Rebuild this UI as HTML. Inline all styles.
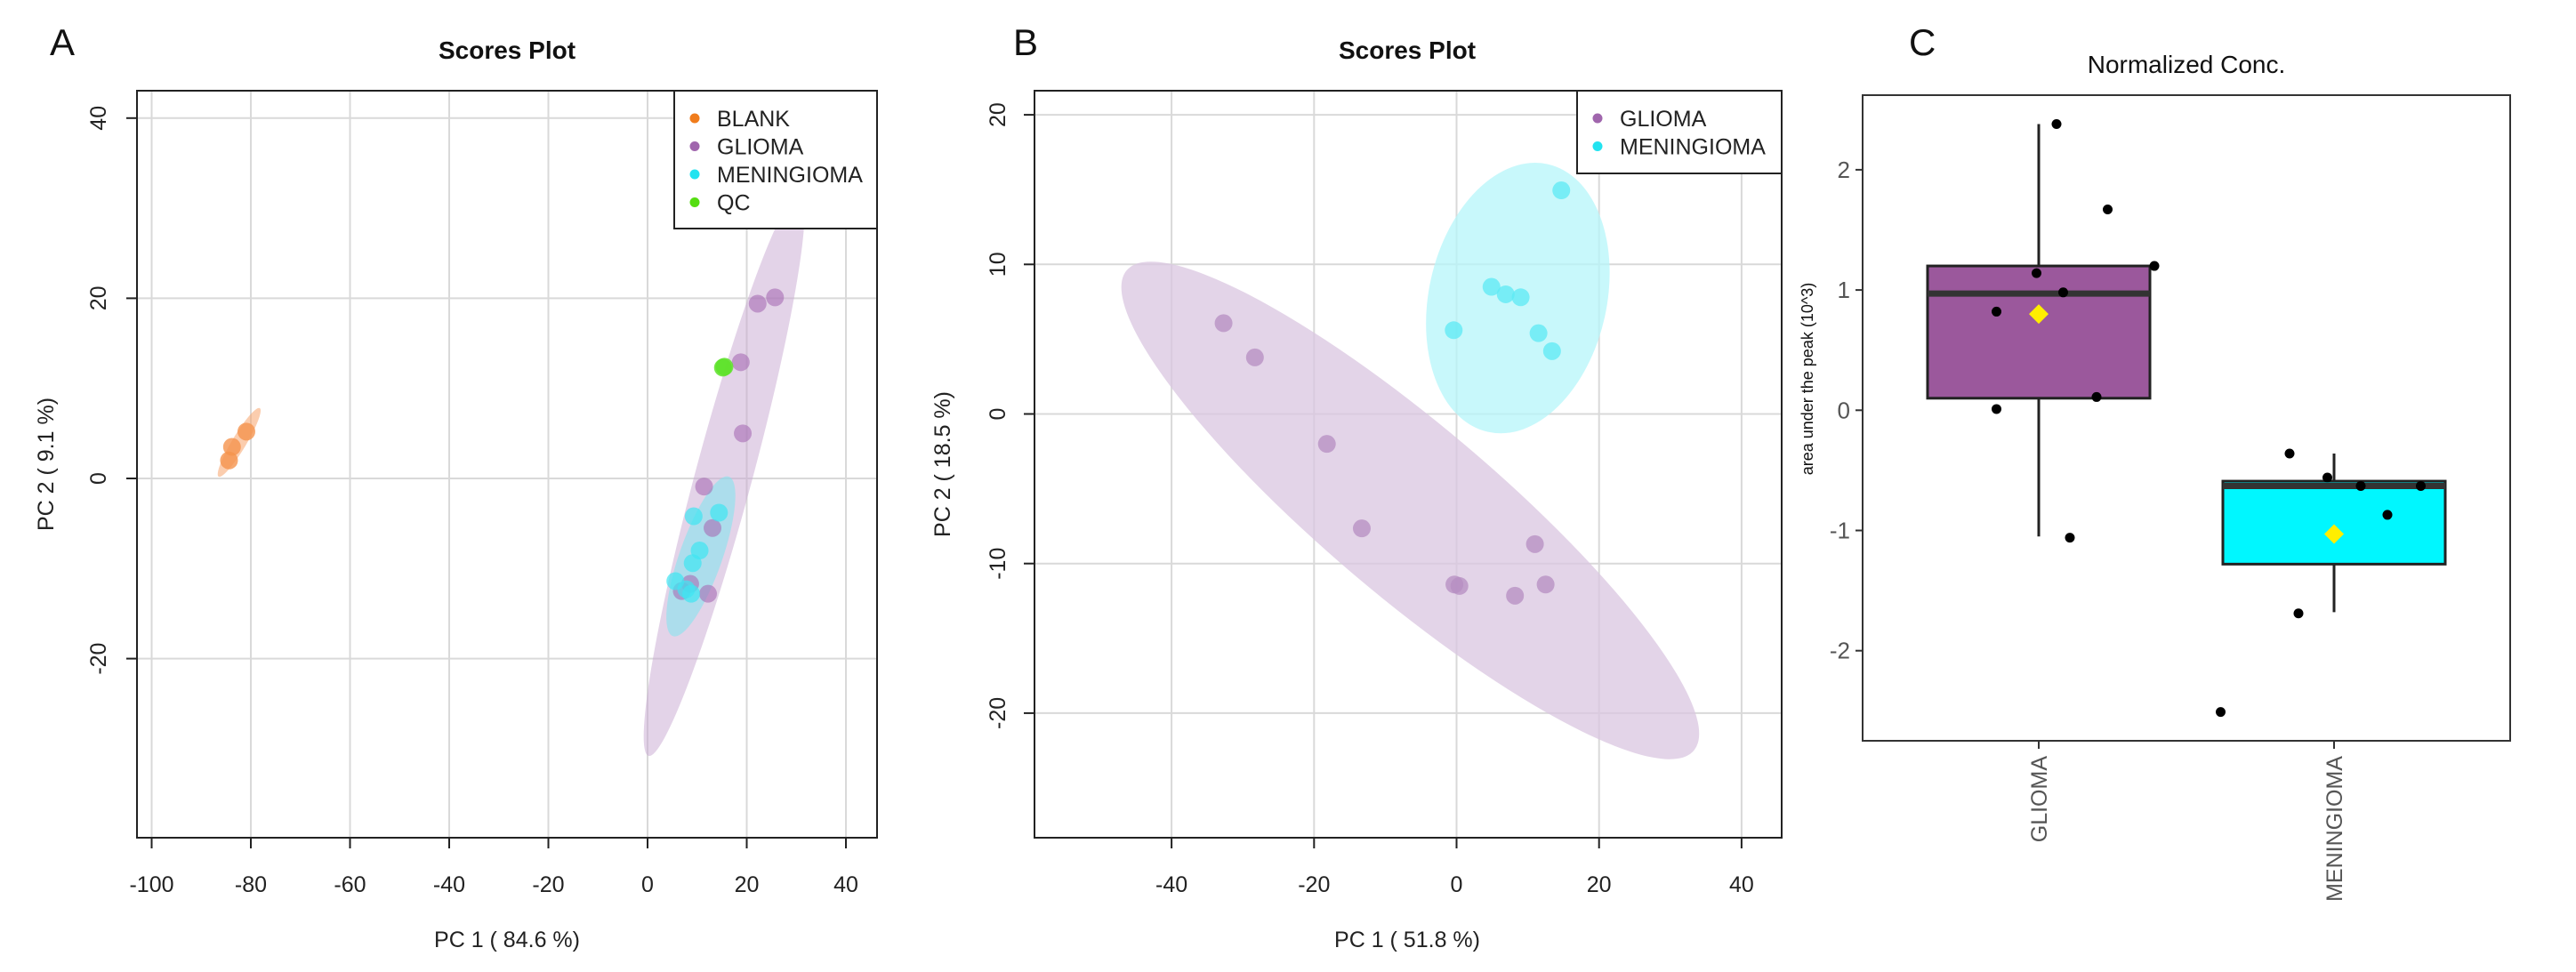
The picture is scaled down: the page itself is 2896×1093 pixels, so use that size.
<!DOCTYPE html>
<html><head><meta charset="utf-8"><style>
html,body{margin:0;padding:0;background:#fff;}
svg text{font-family:"Liberation Sans",sans-serif;}
</style></head><body>
<svg id="fig" width="2896" height="1088" viewBox="0 0 2896 1088" xmlns="http://www.w3.org/2000/svg"></svg>
<script>
// ---------- Panel A data ----------
const aXTicks = [-100,-80,-60,-40,-20,0,20,40];
const aYTicks = [-20,0,20,40];
const aBlankX = [-80.9,-83.8,-84.4];
const aBlankY = [5.2,3.5,2.0];
const aGliomaX = [22.2,25.7,18.8,19.2,11.4,13.1,8.6,6.9,12.2];
const aGliomaY = [19.4,20.1,12.9,5.0,-0.9,-5.5,-11.7,-12.5,-12.8];
const aMenX = [9.3,14.4,10.5,9.1,5.6,7.8,8.8];
const aMenY = [-4.2,-3.8,-8.0,-9.4,-11.4,-12.3,-12.8];
const aQcX = [15.5,15.2];
const aQcY = [12.4,12.3];
// ellipses: [x1,y1,x2,y2] major-axis endpoints in data units
const aBlankEll = [-86.5,0.2,-78.2,7.8];
const aGliomaEll = [0.2,-30.8,30.7,31.7];
const aMenEll = [5.1,-17.5,16.4,0.2];
// ---------- Panel B data ----------
const bXTicks = [-40,-20,0,20,40];
const bYTicks = [-20,-10,0,10,20];
const bGliomaX = [-32.7,-28.3,-18.2,-13.3,-0.3,0.4,8.2,11.0,12.5];
const bGliomaY = [6.07,3.78,-2.0,-7.65,-11.4,-11.5,-12.15,-8.7,-11.4];
const bMenX = [14.7,4.9,6.9,9.0,-0.4,11.5,13.4];
const bMenY = [14.95,8.5,8.0,7.8,5.6,5.4,4.2];
const bGliomaEll = [-46.3,9.6,33.3,-22.5];
const bMenEll = [4.4,-1.2,12.8,16.7];
// ---------- Panel C data ----------
const cCats = ["GLIOMA","MENINGIOMA"];
const cYTicks = [-2,-1,0,1,2];
const cQ1 = [0.1,-1.28];
const cMedian = [0.97,-0.63];
const cQ3 = [1.2,-0.59];
const cWhiskLo = [-1.05,-1.68];
const cWhiskHi = [2.38,-0.36];
const cMean = [0.8,-1.03];
const cGliomaPts = [2.38,1.67,1.2,1.14,0.98,0.82,0.01,0.11,-1.06];
const cGliomaJit = [0.08,0.31,0.52,-0.01,0.11,-0.19,-0.19,0.26,0.14];
const cMenPts = [-0.36,-0.56,-0.63,-0.63,-0.87,-1.69,-2.51];
const cMenJit = [-0.20,-0.03,0.12,0.39,0.24,-0.16,-0.51];

const NS="http://www.w3.org/2000/svg";
const svg=document.getElementById('fig');
function mk(tag,attrs,parent){const e=document.createElementNS(NS,tag);for(const k in attrs)e.setAttribute(k,attrs[k]);(parent||svg).appendChild(e);return e;}
function txt(s,attrs,parent){const e=mk('text',attrs,parent);e.textContent=s;return e;}

function scoresPanel(o){
  const g=mk('g',{});
  
  
  const sx=v=>o.x0px+(v-o.x0v)*o.xs, sy=v=>o.y0px-(v-o.y0v)*o.ys;
  // grid
  o.xt.forEach(v=>{const l=mk('line',{x1:sx(v),x2:sx(v),y1:o.top,y2:o.bot,stroke:'#d9d9d9','stroke-width':2},g);
    });
  o.yt.forEach(v=>{const l=mk('line',{x1:o.left,x2:o.right,y1:sy(v),y2:sy(v),stroke:'#d9d9d9','stroke-width':2},g);
    });
  const clip=mk('clipPath',{id:o.name+'-clip'},g);mk('rect',{x:o.left,y:o.top,width:o.right-o.left,height:o.bot-o.top},clip);
  const pg=mk('g',{'clip-path':'url(#'+o.name+'-clip)'},g);
  o.ells.forEach(e=>{
    const x1=sx(e.d[0]),y1=sy(e.d[1]),x2=sx(e.d[2]),y2=sy(e.d[3]);
    const cx=(x1+x2)/2,cy=(y1+y2)/2,rx=Math.hypot(x2-x1,y2-y1)/2,ang=Math.atan2(y2-y1,x2-x1)*180/Math.PI;
    const el=mk('ellipse',{cx:cx,cy:cy,rx:rx,ry:e.w,transform:`rotate(${ang} ${cx} ${cy})`,fill:e.c,'fill-opacity':e.a},pg);
    
    
  });
  o.series.forEach(s=>{
    s.x.forEach((v,i)=>{const c=mk('circle',{cx:sx(v),cy:sy(s.y[i]),r:10,fill:s.c,'fill-opacity':s.a},pg);
      
      });
  });
  mk('rect',{x:o.left,y:o.top,width:o.right-o.left,height:o.bot-o.top,fill:'none',stroke:'#222','stroke-width':2},g);
  o.xt.forEach(v=>{mk('line',{x1:sx(v),x2:sx(v),y1:o.bot,y2:o.bot+12,stroke:'#222','stroke-width':2},g);
    const t=txt(String(v),{x:sx(v),y:1003,'font-size':25,'text-anchor':'middle',fill:'#222'},g);
    });
  o.yt.forEach(v=>{mk('line',{x1:o.left-12,x2:o.left,y1:sy(v),y2:sy(v),stroke:'#222','stroke-width':2},g);
    const t=txt(String(v),{x:o.ytx,y:sy(v),'font-size':25,'text-anchor':'middle',fill:'#222',transform:`rotate(-90 ${o.ytx} ${sy(v)})`},g);
    });
  const cx=(o.left+o.right)/2;
  let t=txt('Scores Plot',{x:o.titleX,y:66,'font-size':28,'font-weight':'bold','text-anchor':'middle',fill:'#111'},g);
  
  t=txt(o.letter,{x:o.letterX,y:62,'font-size':42,fill:'#111'},g);
  
  t=txt(o.xl,{x:o.titleX,y:1065,'font-size':25,'text-anchor':'middle',fill:'#222'},g);
  
  t=txt(o.yl,{x:o.ylx,y:(o.top+o.bot)/2,'font-size':25,'text-anchor':'middle',fill:'#222',transform:`rotate(-90 ${o.ylx} ${(o.top+o.bot)/2})`},g);
  
  // legend
  const lg=mk('g',{},g);
  
  mk('rect',{x:o.legX,y:o.top,width:o.right-o.legX,height:o.legH,fill:'#fff',stroke:'#222','stroke-width':2},lg);
  o.leg.forEach((e,i)=>{const y=133+i*31.5;
    const eg=mk('g',{},lg);
    mk('circle',{cx:o.legX+23,cy:y,r:5.5,fill:e[1]},eg);
    txt(e[0],{x:o.legX+48,y:y+9,'font-size':25,fill:'#222'},eg);});
}

scoresPanel({name:'panel-a-scores-plot',left:154,right:986,top:102,bot:942,x0px:170.5,x0v:-100,xs:5.575,y0px:538,y0v:0,ys:10.13,
  xt:aXTicks,yt:aYTicks,ytx:119,titleX:570,letter:'A',letterX:56,xl:'PC 1 ( 84.6 %)',yl:'PC 2 ( 9.1 %)',ylx:60,
  ells:[{d:aBlankEll,w:8,c:'#f7a46b',a:0.55,n:'blank-ellipse'},{d:aGliomaEll,w:32,c:'#c8a8d2',a:0.5,n:'glioma-ellipse'},{d:aMenEll,w:24,c:'#7fe5ee',a:0.55,n:'meningioma-ellipse'}],
  series:[{x:aBlankX,y:aBlankY,c:'#f5934e',a:0.8,n:'blank-point'},{x:aGliomaX,y:aGliomaY,c:'#a66db4',a:0.6,n:'glioma-point'},
          {x:aMenX,y:aMenY,c:'#3ee6f2',a:0.7,n:'meningioma-point'},{x:aQcX,y:aQcY,c:'#5ee22a',a:0.85,n:'qc-point'}],
  legX:758,legH:155,leg:[['BLANK','#f07c1c'],['GLIOMA','#a066ad'],['MENINGIOMA','#22e3f0'],['QC','#55dd11']]});

scoresPanel({name:'panel-b-scores-plot',left:1163,right:2003,top:102,bot:942,x0px:1637.5,x0v:0,xs:8.01,y0px:465.5,y0v:0,ys:16.82,
  xt:bXTicks,yt:bYTicks,ytx:1130,titleX:1582,letter:'B',letterX:1139,xl:'PC 1 ( 51.8 %)',yl:'PC 2 ( 18.5 %)',ylx:1068,
  ells:[{d:bGliomaEll,w:96,c:'#d9c6e0',a:0.75,n:'glioma-ellipse'},{d:bMenEll,w:100,c:'#b5f6fa',a:0.75,n:'meningioma-ellipse'}],
  series:[{x:bGliomaX,y:bGliomaY,c:'#b58ec1',a:0.75,n:'glioma-point'},{x:bMenX,y:bMenY,c:'#5ceaf4',a:0.75,n:'meningioma-point'}],
  legX:1773,legH:93,leg:[['GLIOMA','#a066ad'],['MENINGIOMA','#22e3f0']]});

// ---------- Panel C ----------
(function(){
  const g=mk('g',{});
  
  const L=2094,R=2822,T=107,B=833;
  const sy=v=>461.3-v*135.2;
  const catX=[2292,2624], bw=250;
  mk('rect',{x:L,y:T,width:R-L,height:B-T,fill:'#fff',stroke:'#333','stroke-width':2},g);
  const fills=['#9b589c','#00f7ff'];
  const pts=[cGliomaPts,cMenPts], jit=[cGliomaJit,cMenJit];
  cCats.forEach((c,i)=>{
    const x=catX[i];
    const w=mk('line',{x1:x,x2:x,y1:sy(cWhiskHi[i]),y2:sy(cWhiskLo[i]),stroke:'#222','stroke-width':3},g);
    
    const b=mk('rect',{x:x-bw/2,y:sy(cQ3[i]),width:bw,height:sy(cQ1[i])-sy(cQ3[i]),fill:fills[i],stroke:'#222','stroke-width':3},g);
    
    const m=mk('line',{x1:x-bw/2,x2:x+bw/2,y1:sy(cMedian[i]),y2:sy(cMedian[i]),stroke:'#333','stroke-width':7},g);
    
    pts[i].forEach((v,j)=>{const p=mk('circle',{cx:x+jit[i][j]*bw,cy:sy(v),r:5.5,fill:'#000'},g);
      });
    const my=sy(cMean[i]);
    const d=mk('polygon',{points:`${x},${my-11} ${x+11},${my} ${x},${my+11} ${x-11},${my}`,fill:'#ffee00'},g);
    
    mk('line',{x1:x,x2:x,y1:B,y2:B+9,stroke:'#333','stroke-width':2},g);
    const t=txt(c,{x:x+9,y:850,'font-size':25,'text-anchor':'end',fill:'#555',transform:`rotate(-90 ${x+9} 850)`},g);
    
  });
  cYTicks.forEach(v=>{mk('line',{x1:L-8,x2:L,y1:sy(v),y2:sy(v),stroke:'#333','stroke-width':2},g);
    const t=txt(String(v),{x:L-14,y:sy(v)+9,'font-size':26,'text-anchor':'end',fill:'#555'},g);
    });
  let t=txt('Normalized Conc.',{x:2458,y:82,'font-size':28,'text-anchor':'middle',fill:'#111'},g);
  
  t=txt('C',{x:2146,y:62,'font-size':42,fill:'#111'},g);
  
  t=txt('area under the peak (10^3)',{x:2038,y:426,'font-size':18,'text-anchor':'middle',fill:'#111',transform:'rotate(-90 2038 426)'},g);
  
})();
</script>
</body></html>
